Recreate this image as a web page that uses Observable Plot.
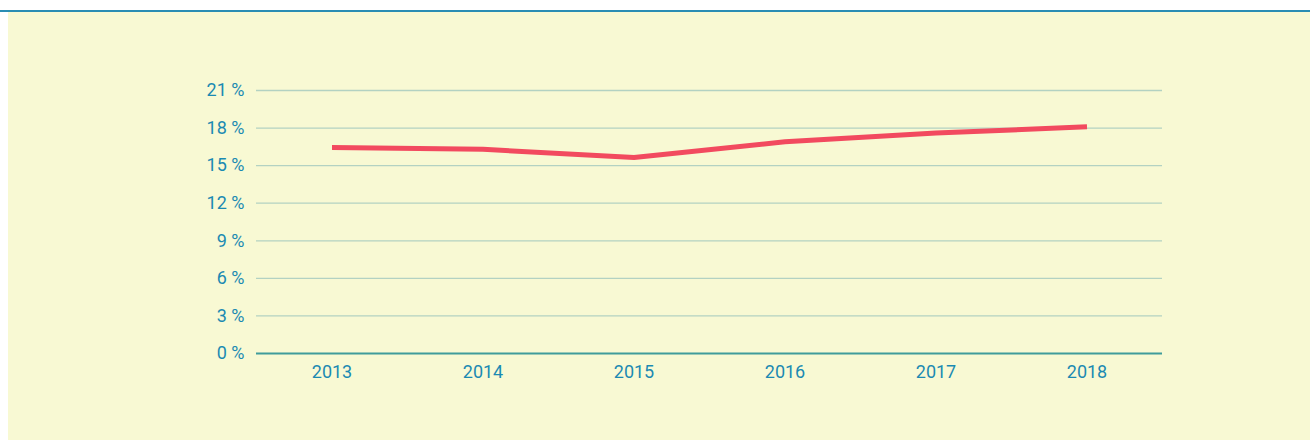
<!DOCTYPE html>
<html>
<head>
<meta charset="utf-8">
<script src="https://cdn.jsdelivr.net/npm/d3@7"></script>
<script src="https://cdn.jsdelivr.net/npm/@observablehq/plot@0.6"></script>
<style>
  html, body { margin: 0; padding: 0; background: #ffffff; }
  body { width: 1310px; height: 442px; position: relative; overflow: hidden; font-family: Roboto, "Noto Sans", sans-serif; }
  #topline { position: absolute; left: 0; top: 10px; width: 1310px; height: 2px; background: #2a8db3; }
  #panel { position: absolute; left: 8px; top: 12px; width: 1302px; height: 428px; background: #f8f9d3; }
</style>
</head>
<body>
<div id="topline"></div>
<div id="panel"></div>
<script>
const years = ["2013", "2014", "2015", "2016", "2017", "2018"];
const shares = [16.45, 16.3, 15.65, 16.9, 17.6, 18.1];
const yTicks = [0, 3, 6, 9, 12, 15, 18, 21];

const data = years.map((y, i) => ({year: y, value: shares[i]}));
const textColor = "#1b8ab2";

const chart = Plot.plot({
  width: 1302,
  height: 428,
  marginLeft: 248,
  marginRight: 148,
  marginTop: 78,
  marginBottom: 87,
  style: {background: "transparent", fontFamily: "Roboto, 'Noto Sans', sans-serif", fontSize: "18px", color: textColor},
  x: {type: "band", domain: years, padding: 0, label: null},
  y: {domain: [0, 21], label: null},
  marks: [
    Plot.ruleY(yTicks.filter(d => d > 0), {stroke: "#b3d2c2", strokeWidth: 1.3}),
    Plot.ruleY([0], {stroke: "#3f9c9b", strokeWidth: 2}),
    Plot.axisY({ticks: yTicks, tickSize: 0, tickPadding: 12, tickFormat: d => d + " %", fill: textColor, fontSize: 18, label: null}),
    Plot.axisX({tickSize: 0, tickPadding: 12, fill: textColor, fontSize: 18, label: null}),
    Plot.line(data, {x: "year", y: "value", stroke: "#f24a5f", strokeWidth: 5, strokeLinecap: "butt", strokeLinejoin: "round"})
  ]
});
document.getElementById("panel").appendChild(chart);
</script>
</body>
</html>
